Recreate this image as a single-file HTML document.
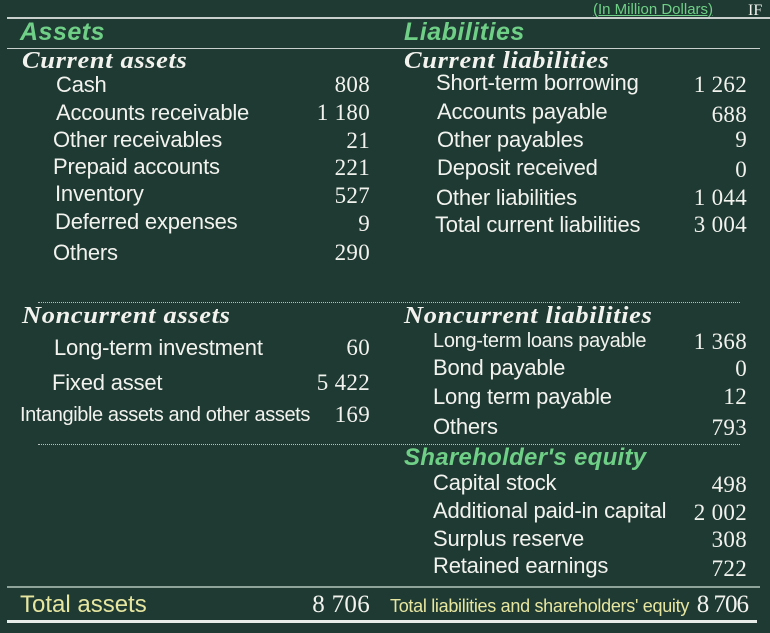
<!DOCTYPE html>
<html><head><meta charset="utf-8"><style>
body{margin:0;width:770px;height:633px;background:#1f3a33;overflow:hidden;position:relative;font-family:"Liberation Sans",sans-serif;color:#f2f2ee}
.t{position:absolute;white-space:nowrap;line-height:26px;height:26px}
.l{font-size:22px;letter-spacing:-0.2px}
.n{font-family:"Liberation Serif",serif;font-size:23px;text-align:right;width:100px;letter-spacing:0.3px}
.h{font-family:"Liberation Serif",serif;font-weight:bold;font-style:italic;font-size:24px;letter-spacing:0.6px;transform:scaleX(1.1);transform-origin:left center}
.g{color:#6fcf86;font-weight:bold;font-style:italic;font-size:25px;letter-spacing:0.5px}
.line{position:absolute;height:2px;background:#c9cfcc}
.dot{position:absolute;height:0;border-top:1px dotted #b8c0bc}
</style></head><body>
<div class="t" style="left:593px;top:-3px;font-size:15px;color:#6fcf86;text-decoration:underline">(In Million Dollars)</div>
<div class="t" style="left:748px;top:-2px;font-size:16px;font-family:'Liberation Serif',serif">IF</div>
<div class="line" style="left:7px;top:17px;width:763px"></div>
<div class="t g" style="left:20px;top:19px">Assets</div>
<div class="t g" style="left:404px;top:19px">Liabilities</div>
<div class="line" style="left:7px;top:48px;width:753px;height:1px"></div>
<div class="t h" style="left:22px;top:48px">Current assets</div>
<div class="t h" style="left:404px;top:48px">Current liabilities</div>

<div class="t l" style="left:56px;top:72px">Cash</div>
<div class="t n" style="left:270px;top:72px">808</div>
<div class="t l" style="left:56px;top:100px">Accounts receivable</div>
<div class="t n" style="left:270px;top:100px">1 180</div>
<div class="t l" style="left:53px;top:127px">Other receivables</div>
<div class="t n" style="left:270px;top:128px">21</div>
<div class="t l" style="left:53px;top:154px">Prepaid accounts</div>
<div class="t n" style="left:270px;top:155px">221</div>
<div class="t l" style="left:55px;top:181px">Inventory</div>
<div class="t n" style="left:270px;top:183px">527</div>
<div class="t l" style="left:55px;top:209px">Deferred expenses</div>
<div class="t n" style="left:270px;top:211px">9</div>
<div class="t l" style="left:53px;top:240px">Others</div>
<div class="t n" style="left:270px;top:240px">290</div>

<div class="t l" style="left:436px;top:70px">Short-term borrowing</div>
<div class="t n" style="left:647px;top:72px">1 262</div>
<div class="t l" style="left:437px;top:99px">Accounts payable</div>
<div class="t n" style="left:647px;top:102px">688</div>
<div class="t l" style="left:437px;top:127px">Other payables</div>
<div class="t n" style="left:647px;top:127px">9</div>
<div class="t l" style="left:437px;top:155px">Deposit received</div>
<div class="t n" style="left:647px;top:157px">0</div>
<div class="t l" style="left:436px;top:185px">Other liabilities</div>
<div class="t n" style="left:647px;top:185px">1 044</div>
<div class="t l" style="left:435px;top:212px">Total current liabilities</div>
<div class="t n" style="left:647px;top:212px">3 004</div>

<div class="dot" style="left:38px;top:302px;width:702px"></div>
<div class="t h" style="left:22px;top:303px">Noncurrent assets</div>
<div class="t h" style="left:404px;top:303px">Noncurrent liabilities</div>

<div class="t l" style="left:54px;top:335px">Long-term investment</div>
<div class="t n" style="left:270px;top:335px">60</div>
<div class="t l" style="left:52px;top:370px">Fixed asset</div>
<div class="t n" style="left:270px;top:370px">5 422</div>
<div class="t l" style="left:20px;top:402px;font-size:20px;letter-spacing:-0.4px">Intangible assets and other assets</div>
<div class="t n" style="left:270px;top:402px">169</div>

<div class="t l" style="left:433px;top:328px;font-size:20px;letter-spacing:-0.3px">Long-term loans payable</div>
<div class="t n" style="left:647px;top:329px">1 368</div>
<div class="t l" style="left:433px;top:355px">Bond payable</div>
<div class="t n" style="left:647px;top:356px">0</div>
<div class="t l" style="left:433px;top:384px">Long term payable</div>
<div class="t n" style="left:647px;top:384px">12</div>
<div class="t l" style="left:433px;top:414px">Others</div>
<div class="t n" style="left:647px;top:415px">793</div>

<div class="dot" style="left:38px;top:444px;width:702px"></div>
<div class="t" style="left:404px;top:445px;color:#6fcf86;font-weight:bold;font-style:italic;font-size:24px;letter-spacing:0.3px">Shareholder's equity</div>
<div class="t l" style="left:433px;top:470px">Capital stock</div>
<div class="t n" style="left:647px;top:472px">498</div>
<div class="t l" style="left:433px;top:498px">Additional paid-in capital</div>
<div class="t n" style="left:647px;top:500px">2 002</div>
<div class="t l" style="left:433px;top:526px">Surplus reserve</div>
<div class="t n" style="left:647px;top:527px">308</div>
<div class="t l" style="left:433px;top:553px">Retained earnings</div>
<div class="t n" style="left:647px;top:556px">722</div>

<div class="line" style="left:7px;top:586px;width:753px;background:#8fa39b"></div>
<div class="t" style="left:20px;top:592px;font-size:24px;color:#e7e6a0">Total assets</div>
<div class="t n" style="left:270px;top:592px;font-size:25px">8 706</div>
<div class="t" style="left:390px;top:593px;font-size:18px;letter-spacing:-0.3px;color:#e7e6a0">Total liabilities and shareholders' equity</div>
<div class="t n" style="left:648px;top:592px;font-size:25px;letter-spacing:-1px">8 706</div>
<div class="line" style="left:7px;top:620px;width:750px;height:3px;background:#e8ece9"></div>
</body></html>
